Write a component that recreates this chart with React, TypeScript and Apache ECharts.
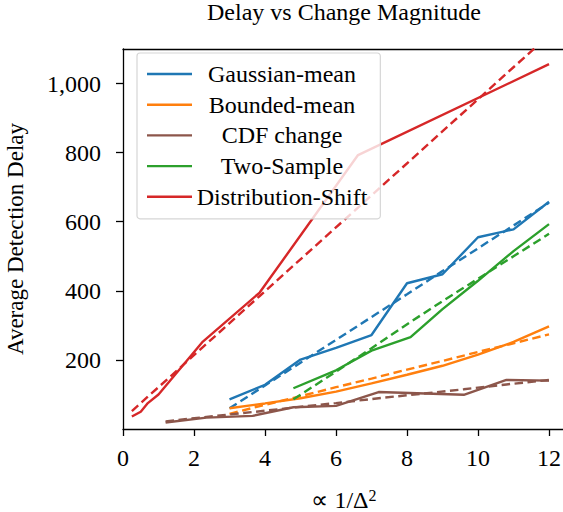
import React, { useEffect, useRef } from "react";
import * as echarts from "echarts";

const xTicks = [0, 2, 4, 6, 8, 10, 12];
const yTicks = [200, 400, 600, 800, 1000];

const gaussX = [3, 4, 5, 6, 7, 8, 9, 10, 11, 12];
const gaussY = [86, 128, 201, 235, 272, 422, 448, 555, 578, 658];
const gaussFitY = [60, 126, 192, 258, 324, 390, 457, 523, 589, 655];

const boundedX = [3, 4, 5, 6, 7, 8, 9, 10, 11, 12];
const boundedY = [60, 74, 89, 108, 132, 157, 183, 215, 252, 297];
const boundedFitY = [44, 70, 95, 121, 146, 172, 197, 223, 248, 274];

const cdfX = [1.2, 2.35, 3.65, 4.8, 6, 7.2, 9.6, 10.8, 12];
const cdfY = [19, 33, 38, 63, 67, 107, 99, 142, 140];
const cdfFitY = [22, 35, 49, 62, 75, 89, 115, 129, 142];

const twoX = [4.8, 6, 7, 8.1, 9, 10, 11, 12];
const twoY = [118, 170, 227, 266, 347, 429, 515, 593];
const twoFitY = [86, 166, 234, 310, 370, 435, 500, 565];

const distX = [0.25, 0.5, 0.7, 1.0, 2.25, 3.85, 6.62, 12];
const distY = [36, 50, 75, 100, 253, 395, 793, 1056];
const distFitY = [52, 75, 94, 121, 237, 385, 641, 1140];

const seriesDefs = [
  { name: "Gaussian-mean", color: "#1f77b4", x: gaussX, y: gaussY, fit: gaussFitY },
  { name: "Bounded-mean", color: "#ff7f0e", x: boundedX, y: boundedY, fit: boundedFitY },
  { name: "CDF change", color: "#8c564b", x: cdfX, y: cdfY, fit: cdfFitY },
  { name: "Two-Sample", color: "#2ca02c", x: twoX, y: twoY, fit: twoFitY },
  { name: "Distribution-Shift", color: "#d62728", x: distX, y: distY, fit: distFitY },
];

const FONT = '"Liberation Serif", "Times New Roman", serif';

export default function App() {
  const ref = useRef<HTMLDivElement>(null);
  useEffect(() => {
    if (!ref.current) return;
    const chart = echarts.init(ref.current, null, { renderer: "svg" });
    const series: any[] = [];
    seriesDefs.forEach((s) => {
      series.push({
        name: s.name,
        type: "line",
        data: s.x.map((v, i) => [v, s.y[i]]),
        symbol: "none",
        showSymbol: false,
        clip: true,
        silent: true,
        z: 2,
        lineStyle: { color: s.color, width: 2.4 },
        itemStyle: { color: s.color },
        emphasis: { disabled: true },
      });
      series.push({
        name: s.name + " fit",
        type: "line",
        data: s.x.map((v, i) => [v, s.fit[i]]),
        symbol: "none",
        showSymbol: false,
        clip: true,
        silent: true,
        z: 2,
        lineStyle: { color: s.color, width: 2.4, type: [8.5, 4.5] },
        itemStyle: { color: s.color },
        emphasis: { disabled: true },
      });
    });
    chart.setOption({
      animation: false,
      backgroundColor: "#fff",
      textStyle: { fontFamily: FONT },
      graphic: [
        {
          type: "text",
          x: 344,
          y: 0,
          style: {
            text: "Delay vs Change Magnitude",
            fontSize: 24,
            fontFamily: FONT,
            fill: "#000",
            align: "center",
            verticalAlign: "top",
          },
        },
      ],
      grid: { left: 123, top: 49, right: 5, bottom: 83, containLabel: false, outerBoundsMode: "none" },
      legend: {
        data: seriesDefs.map((s) => s.name),
        orient: "vertical",
        left: 137,
        top: 53,
        z: 10,
        padding: [9, 13, 10, 10],
        icon: "rect",
        itemWidth: 45,
        itemHeight: 2.4,
        itemGap: 6.7,
        selectedMode: false,
        backgroundColor: "rgba(255,255,255,0.8)",
        borderColor: "#d6d6d6",
        borderWidth: 1.2,
        borderRadius: 3,
        formatter: (n: string) => `{t|${n}}`,
        textStyle: {
          fontFamily: FONT,
          fontSize: 24,
          color: "#000",
          rich: {
            t: { width: 170, align: "center", fontSize: 24, lineHeight: 24, fontFamily: FONT, color: "#000" },
          },
        },
      },
      xAxis: [
        {
          type: "value",
          min: 0,
          max: 12.45,
          interval: 2,
          position: "bottom",
          name: "{a|∝ 1/Δ}{b|2}",
          nameLocation: "middle",
          nameGap: 58,
          nameTextStyle: {
            fontFamily: FONT,
            fontSize: 24,
            color: "#000",
            rich: {
              a: { fontFamily: FONT, fontSize: 24, lineHeight: 26, color: "#000" },
              b: { fontFamily: FONT, fontSize: 16, lineHeight: 16, verticalAlign: "top", color: "#000" },
            },
          },
          axisLine: { show: true, lineStyle: { color: "#000", width: 1.3 } },
          axisTick: { show: true, length: 7, customValues: xTicks, lineStyle: { color: "#000", width: 1.3 } },
          axisLabel: { customValues: xTicks, margin: 17, fontFamily: FONT, fontSize: 24, color: "#000" },
          splitLine: { show: false },
        },
        {
          type: "value",
          min: 0,
          max: 12.45,
          interval: 2,
          position: "top",
          axisLine: { show: true, lineStyle: { color: "#000", width: 1.3 } },
          axisTick: { show: false },
          axisLabel: { show: false },
          splitLine: { show: false },
        },
      ],
      yAxis: {
        type: "value",
        min: 0,
        max: 1100,
        interval: 200,
        name: "Average Detection Delay",
        nameLocation: "middle",
        nameRotate: 90,
        nameGap: 96,
        nameTextStyle: { fontFamily: FONT, fontSize: 23, color: "#000" },
        axisLine: { show: true, lineStyle: { color: "#000", width: 1.3 } },
        axisTick: { show: true, length: 7, customValues: yTicks, lineStyle: { color: "#000", width: 1.3 } },
        axisLabel: {
          customValues: yTicks,
          margin: 22,
          fontFamily: FONT,
          fontSize: 24,
          color: "#000",
          formatter: (v: number) => v.toLocaleString("en-US"),
        },
        splitLine: { show: false },
      },
      series,
    });
    return () => chart.dispose();
  }, []);
  return (
    <div style={{ position: "fixed", left: 0, top: 0, width: 563, height: 512, overflow: "hidden", background: "#fff" }}>
      <div ref={ref} style={{ width: 570, height: 512 }} />
    </div>
  );
}
